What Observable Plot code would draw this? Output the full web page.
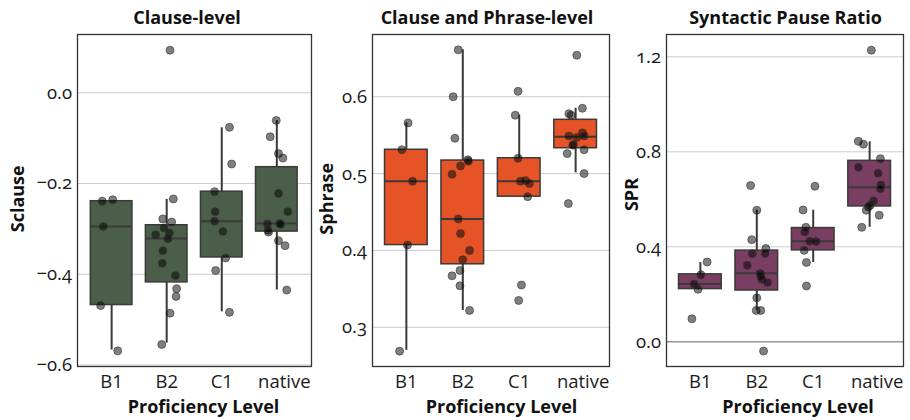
<!DOCTYPE html>
<html>
<head>
<meta charset="utf-8">
<script src="https://cdn.jsdelivr.net/npm/d3@7"></script>
<script src="https://cdn.jsdelivr.net/npm/@observablehq/plot@0.6"></script>
<style>
  html, body { margin: 0; padding: 0; background: white; }
  #chart { position: relative; width: 910px; height: 420px; overflow: hidden; background: white; }
  #chart svg { position: absolute; top: 0; }
</style>
</head>
<body>
<div id="chart"></div>
<script>
const categories = ["B1", "B2", "C1", "native"];
const xLabel = "Proficiency Level";

// ---- Panel 1: Clause-level (Sclause) ----
const clauseValues = [
  [-0.239, -0.236, -0.295, -0.469, -0.569],
  [0.094, -0.234, -0.278, -0.285, -0.298, -0.309, -0.313, -0.322, -0.348, -0.376, -0.403, -0.432, -0.449, -0.486, -0.555],
  [-0.076, -0.157, -0.218, -0.262, -0.283, -0.306, -0.364, -0.392, -0.484],
  [-0.061, -0.097, -0.134, -0.144, -0.222, -0.262, -0.289, -0.288, -0.290, -0.303, -0.307, -0.326, -0.337, -0.435]
];
const clauseJitter = [
  [-0.17, 0.02, -0.15, -0.20, 0.11],
  [0.06, 0.12, -0.07, 0.09, -0.05, 0.05, -0.20, 0.02, -0.07, -0.08, 0.16, 0.18, 0.17, 0.06, -0.09],
  [0.14, 0.18, -0.13, -0.12, -0.13, 0.02, 0.07, -0.11, 0.14],
  [-0.01, -0.12, 0.03, 0.11, 0.03, 0.20, -0.17, 0.05, 0.07, -0.16, -0.15, 0.03, 0.15, 0.18]
];
const clauseWhiskerLow  = [-0.567, -0.552, -0.483, -0.435];
const clauseQ1          = [-0.468, -0.418, -0.363, -0.306];
const clauseMedian      = [-0.295, -0.321, -0.283, -0.288];
const clauseQ3          = [-0.239, -0.292, -0.218, -0.164];
const clauseWhiskerHigh = [-0.239, -0.235, -0.077, -0.061];
const clauseTicks = [-0.6, -0.4, -0.2, 0.0];

// ---- Panel 2: Clause and Phrase-level (Sphrase) ----
const phraseValues = [
  [0.566, 0.531, 0.490, 0.407, 0.269],
  [0.661, 0.600, 0.546, 0.518, 0.516, 0.510, 0.499, 0.441, 0.422, 0.400, 0.388, 0.374, 0.367, 0.354, 0.322],
  [0.607, 0.576, 0.520, 0.490, 0.491, 0.487, 0.470, 0.355, 0.335],
  [0.654, 0.585, 0.578, 0.576, 0.549, 0.547, 0.553, 0.549, 0.538, 0.537, 0.531, 0.526, 0.500, 0.461]
];
const phraseJitter = [
  [0.03, -0.08, 0.11, 0.02, -0.12],
  [-0.08, -0.17, -0.14, 0.09, 0.10, -0.04, -0.19, -0.08, -0.04, 0.12, 0.00, -0.05, -0.19, -0.05, 0.12],
  [-0.02, -0.07, -0.02, 0.02, 0.11, 0.18, 0.15, 0.04, -0.01],
  [0.02, 0.12, -0.12, -0.08, -0.12, 0.02, 0.12, 0.15, -0.04, -0.05, 0.15, -0.15, 0.15, -0.13]
];
const phraseWhiskerLow  = [0.270, 0.322, 0.470, 0.501];
const phraseQ1          = [0.407, 0.382, 0.470, 0.533];
const phraseMedian      = [0.490, 0.441, 0.490, 0.548];
const phraseQ3          = [0.531, 0.517, 0.520, 0.570];
const phraseWhiskerHigh = [0.566, 0.661, 0.576, 0.585];
const phraseTicks = [0.3, 0.4, 0.5, 0.6];

// ---- Panel 3: Syntactic Pause Ratio (SPR) ----
const sprValues = [
  [0.336, 0.282, 0.243, 0.221, 0.097],
  [0.658, 0.554, 0.430, 0.393, 0.371, 0.372, 0.322, 0.288, 0.277, 0.263, 0.250, 0.185, 0.132, 0.132, -0.039],
  [0.655, 0.555, 0.482, 0.462, 0.423, 0.422, 0.385, 0.334, 0.235],
  [1.228, 0.844, 0.832, 0.771, 0.735, 0.710, 0.660, 0.644, 0.594, 0.575, 0.568, 0.554, 0.533, 0.482]
];
const sprJitter = [
  [0.12, 0.01, -0.11, -0.04, -0.15],
  [-0.11, 0.00, -0.09, 0.16, -0.08, 0.15, -0.17, 0.06, 0.07, 0.09, 0.19, 0.00, -0.01, 0.07, 0.12],
  [0.03, -0.18, -0.13, -0.15, -0.06, 0.05, -0.16, -0.12, -0.12],
  [0.03, -0.20, -0.11, 0.19, -0.20, 0.15, 0.20, 0.19, 0.07, 0.01, -0.02, -0.06, 0.17, -0.14]
];
const sprWhiskerLow  = [0.222, 0.133, 0.334, 0.482];
const sprQ1          = [0.222, 0.216, 0.385, 0.570];
const sprMedian      = [0.243, 0.289, 0.423, 0.651];
const sprQ3          = [0.284, 0.384, 0.479, 0.762];
const sprWhiskerHigh = [0.334, 0.554, 0.554, 0.842];
const sprTicks = [0.0, 0.4, 0.8, 1.2];

const FONT = "'Open Sans', 'Noto Sans', sans-serif";
const INK = "#3a3a3a";

function makePanel(cfg) {
  const pts = cfg.values.flatMap((vs, i) => vs.map((v, k) => ({i, v, j: cfg.jitter[i][k]})));
  const boxes = categories.map((c, i) => ({
    i, lo: cfg.lo[i], q1: cfg.q1[i], med: cfg.med[i], q3: cfg.q3[i], hi: cfg.hi[i]
  }));
  const hw = 0.378;
  const label = {fontWeight: "bold", fontSize: 18, fill: "#111", lineAnchor: "middle", textAnchor: "middle"};
  const xAxisOpts = {tickSize: 0, tickPadding: 8.6, tickFormat: i => categories[i], label: null};
  const svg = Plot.plot({
    width: cfg.width,
    height: 420,
    marginLeft: cfg.mL,
    marginRight: cfg.mR,
    marginTop: 34,
    marginBottom: 54,
    style: {fontFamily: FONT, fontSize: "18.5px", color: "#1a1a1a", background: "transparent", overflow: "visible"},
    x: {domain: cfg.xDomain},
    y: {domain: cfg.yDomain},
    marks: [
      Plot.gridY(cfg.ticks, {stroke: "#cccccc", strokeOpacity: 1, strokeWidth: 1}),
      cfg.zeroLine ? Plot.ruleY([0], {stroke: "#9a9a9a", strokeWidth: 1.6}) : null,
      Plot.ruleX(boxes, {x: "i", y1: "lo", y2: "hi", stroke: INK, strokeWidth: 2}),
      Plot.rect(boxes, {x1: d => d.i - hw, x2: d => d.i + hw, y1: "q1", y2: "q3", fill: cfg.color, stroke: INK, strokeWidth: 1.5}),
      Plot.ruleY(boxes, {x1: d => d.i - hw, x2: d => d.i + hw, y: "med", stroke: INK, strokeWidth: 2}),
      Plot.dot(pts, {x: d => d.i + d.j, y: "v", r: 4, fill: "#000", fillOpacity: 0.5, stroke: "#333", strokeOpacity: 0.6, strokeWidth: 1}),
      Plot.frame({stroke: "#333", strokeWidth: 1.3}),
      Plot.axisY(cfg.ticks, {tickSize: 0, tickPadding: 5.5, tickFormat: d3.format(".1f"), label: null, fontVariant: "oldstyle-nums"}),
      Plot.axisX([0, 1, 2], xAxisOpts),
      Plot.axisX([3], {...xAxisOpts, dx: 7.5}),
      Plot.text([cfg.title], {text: d => d, frameAnchor: "top", dy: -16, dx: cfg.titleDx, ...label}),
      Plot.text([xLabel], {text: d => d, frameAnchor: "bottom", dy: 41, dx: cfg.xlabDx, ...label}),
      Plot.text([cfg.ylabel], {text: d => d, frameAnchor: "left", dx: cfg.ylabDx, dy: cfg.ylabDy, rotate: -90, ...label})
    ]
  });
  svg.style.left = cfg.left + "px";
  return svg;
}

const chart = document.getElementById("chart");

chart.appendChild(makePanel({
  title: "Clause-level", ylabel: "Sclause", color: "#4b5e49",
  values: clauseValues, jitter: clauseJitter,
  lo: clauseWhiskerLow, q1: clauseQ1, med: clauseMedian, q3: clauseQ3, hi: clauseWhiskerHigh,
  ticks: clauseTicks, yDomain: [-0.6035, 0.1286], xDomain: [-0.62, 3.63],
  left: 0, width: 315, mL: 77, mR: 4,
  titleDx: -7.5, xlabDx: 9, ylabDx: -59, ylabDy: -1.7, zeroLine: false
}));

chart.appendChild(makePanel({
  title: "Clause and Phrase-level", ylabel: "Sphrase", color: "#e65326",
  values: phraseValues, jitter: phraseJitter,
  lo: phraseWhiskerLow, q1: phraseQ1, med: phraseMedian, q3: phraseQ3, hi: phraseWhiskerHigh,
  ticks: phraseTicks, yDomain: [0.249, 0.681], xDomain: [-0.6, 3.6],
  left: 315, width: 297, mL: 57, mR: 3,
  titleDx: -4, xlabDx: 10.5, ylabDx: -45, ylabDy: -1.7, zeroLine: false
}));

chart.appendChild(makePanel({
  title: "Syntactic Pause Ratio", ylabel: "SPR", color: "#7a3e63",
  values: sprValues, jitter: sprJitter,
  lo: sprWhiskerLow, q1: sprQ1, med: sprMedian, q3: sprQ3, hi: sprWhiskerHigh,
  ticks: sprTicks, yDomain: [-0.104, 1.294], xDomain: [-0.6, 3.6],
  left: 612, width: 298, mL: 54, mR: 7,
  titleDx: 0.5, xlabDx: 13, ylabDx: -34.5, ylabDy: -6, zeroLine: true
}));
</script>
</body>
</html>
